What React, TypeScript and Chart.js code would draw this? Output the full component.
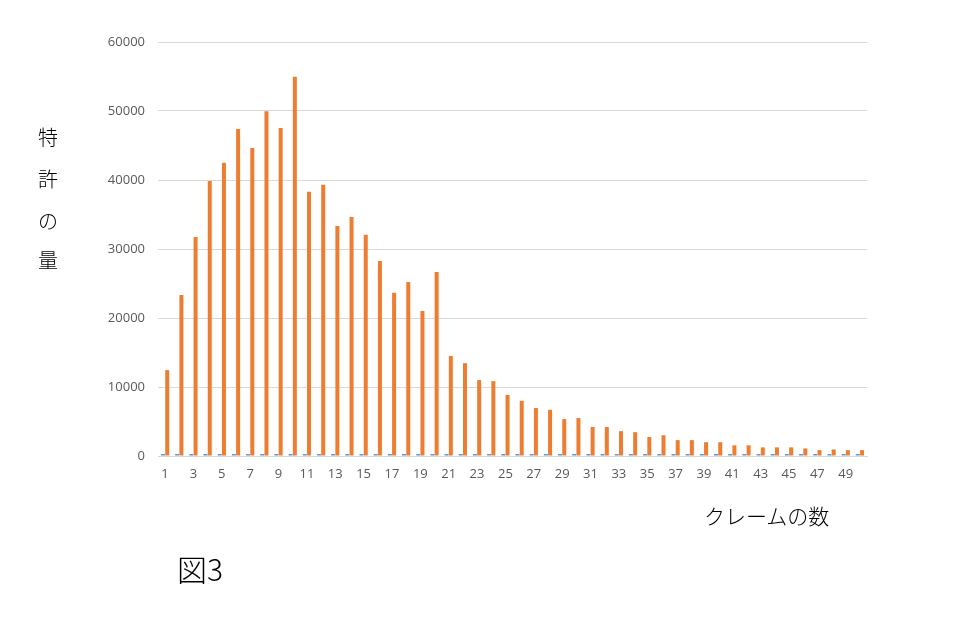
import { useEffect, useRef } from "react";
import Chart from "chart.js/auto";

// claim counts 1..50
const claimCounts = [
  "1", "2", "3", "4", "5", "6", "7", "8", "9", "10",
  "11", "12", "13", "14", "15", "16", "17", "18", "19", "20",
  "21", "22", "23", "24", "25", "26", "27", "28", "29", "30",
  "31", "32", "33", "34", "35", "36", "37", "38", "39", "40",
  "41", "42", "43", "44", "45", "46", "47", "48", "49", "50",
];

// first column that got plotted too (the claim count itself, barely visible)
const seriesClaims = [
  1, 2, 3, 4, 5, 6, 7, 8, 9, 10,
  11, 12, 13, 14, 15, 16, 17, 18, 19, 20,
  21, 22, 23, 24, 25, 26, 27, 28, 29, 30,
  31, 32, 33, 34, 35, 36, 37, 38, 39, 40,
  41, 42, 43, 44, 45, 46, 47, 48, 49, 50,
];

// number of patents
const seriesPatents = [
  12450, 23350, 31750, 39850, 42500, 47400, 44650, 49950, 47550, 54950,
  38300, 39300, 33350, 34650, 32050, 28250, 23650, 25200, 21000, 26650,
  14500, 13450, 11000, 10850, 8850, 8000, 6950, 6700, 5350, 5500,
  4200, 4200, 3600, 3450, 2750, 3000, 2300, 2300, 2000, 2000,
  1550, 1550, 1250, 1250, 1250, 1100, 850, 950, 850, 850,
];

const yTicks = [0, 10000, 20000, 30000, 40000, 50000, 60000];

const tickFont = { family: "'Open Sans', sans-serif", size: 13 };
const tickColor = "#595959";
const cjk = "'Noto Sans CJK JP', sans-serif";

function PatentChart() {
  const chartRef = useRef<HTMLCanvasElement>(null);
  const chartInstance = useRef<Chart | null>(null);

  useEffect(() => {
    if (!chartRef.current) return;
    if (chartInstance.current) chartInstance.current.destroy();

    const ctx = chartRef.current.getContext("2d");
    if (!ctx) return;

    chartInstance.current = new Chart(ctx, {
      type: "bar",
      data: {
        labels: claimCounts,
        datasets: [
          {
            label: "クレーム",
            data: seriesClaims,
            backgroundColor: "#5b9bd5",
            minBarLength: 2,
            categoryPercentage: 0.6,
            barPercentage: 0.94,
          },
          {
            label: "特許",
            data: seriesPatents,
            backgroundColor: "#ed7d31",
            categoryPercentage: 0.6,
            barPercentage: 0.94,
          },
        ],
      },
      options: {
        responsive: false,
        animation: false,
        layout: { padding: { top: 42, right: 112, left: 0, bottom: 0 } },
        scales: {
          y: {
            min: 0,
            max: 60000,
            afterFit: (scale: any) => {
              scale.width = 158;
            },
            afterBuildTicks: (scale: any) => {
              scale.ticks = yTicks.map((v) => ({ value: v }));
            },
            ticks: {
              font: tickFont,
              color: tickColor,
              padding: 13,
              callback: (v: any) => String(v),
            },
            grid: { color: "#d9d9d9", drawTicks: false },
            border: { display: false },
          },
          x: {
            afterFit: (scale: any) => {
              scale.height = 184;
            },
            ticks: {
              autoSkip: false,
              maxRotation: 0,
              font: tickFont,
              color: tickColor,
              padding: 10,
              callback: (_v: any, i: number) => (i % 2 === 0 ? claimCounts[i] : ""),
            },
            grid: { display: false, drawTicks: false },
            border: { display: true, color: "#d9d9d9" },
          },
        },
        plugins: {
          legend: { display: false },
          tooltip: { enabled: false },
        },
      },
    });

    return () => {
      if (chartInstance.current) {
        chartInstance.current.destroy();
        chartInstance.current = null;
      }
    };
  }, []);

  return <canvas ref={chartRef} width={979} height={640} style={{ position: "absolute", left: 0, top: 0 }} />;
}

const yTitleChars = [
  { ch: "特", y: 137 },
  { ch: "許", y: 179 },
  { ch: "の", y: 221 },
  { ch: "量", y: 260 },
];

export default function App() {
  return (
    <div
      style={{
        position: "fixed",
        left: 0,
        top: 0,
        width: 979,
        height: 640,
        background: "#fff",
        overflow: "hidden",
      }}
    >
      <PatentChart />
      {yTitleChars.map((c) => (
        <div
          key={c.ch}
          style={{
            position: "absolute",
            left: 28,
            width: 40,
            top: c.y - 10,
            height: 20,
            lineHeight: "20px",
            textAlign: "center",
            fontFamily: cjk,
            fontSize: 20,
            fontWeight: 300,
            color: "#000",
          }}
        >
          {c.ch}
        </div>
      ))}
      <div
        style={{
          position: "absolute",
          left: 704,
          top: 515 - 12,
          height: 24,
          lineHeight: "24px",
          fontFamily: cjk,
          fontSize: 21,
          fontWeight: 300,
          color: "#000",
          whiteSpace: "nowrap",
        }}
      >
        クレームの数
      </div>
      <div
        style={{
          position: "absolute",
          left: 177,
          top: 568 - 18,
          height: 36,
          lineHeight: "36px",
          fontFamily: cjk,
          fontSize: 30,
          fontWeight: 300,
          color: "#000",
          whiteSpace: "nowrap",
        }}
      >
        図3
      </div>
    </div>
  );
}
